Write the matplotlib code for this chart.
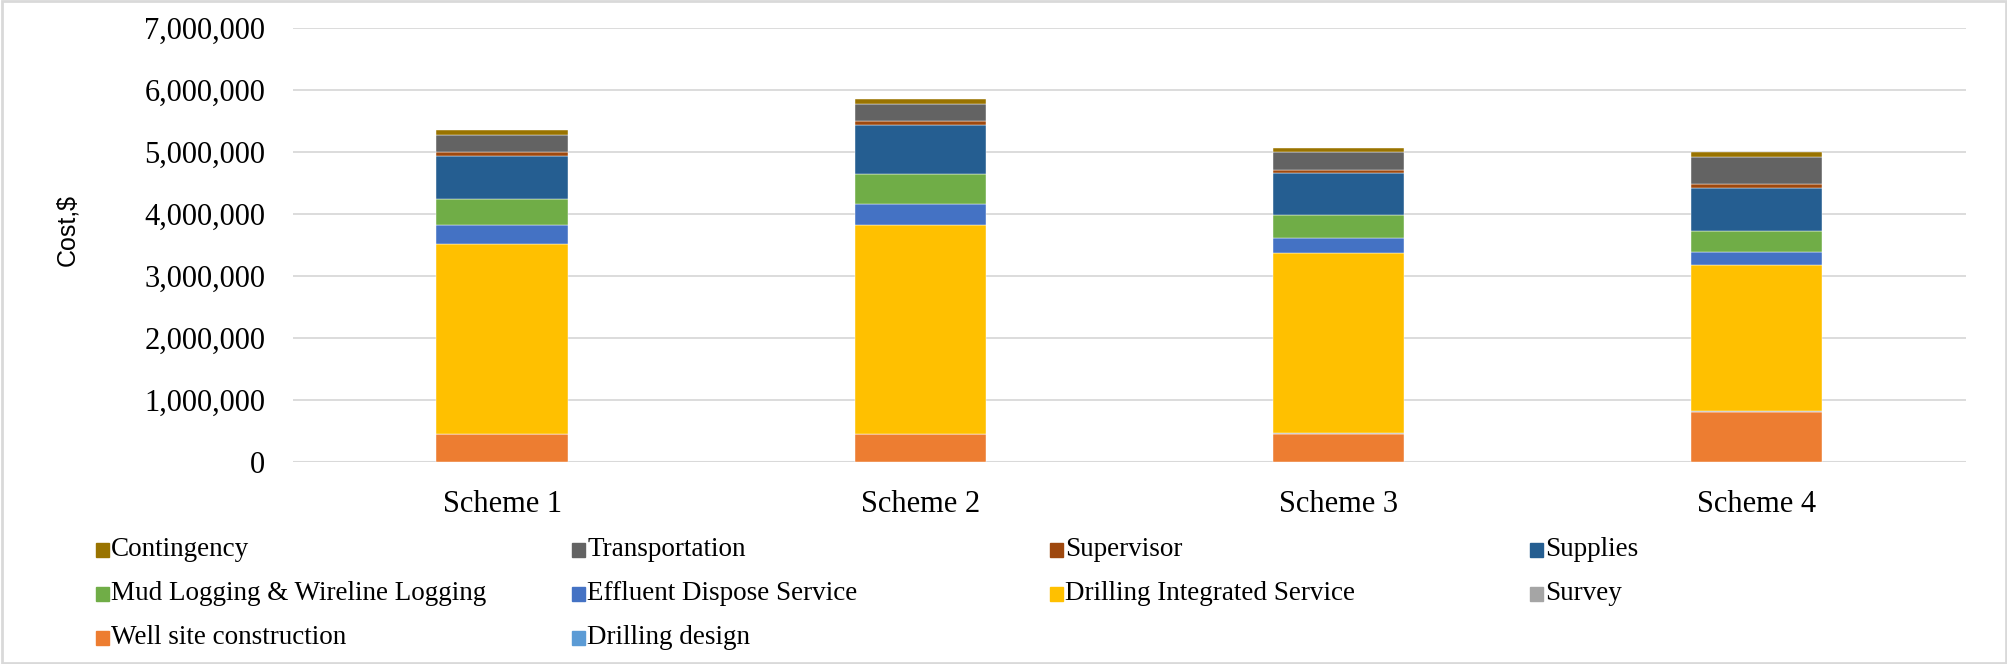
import matplotlib.pyplot as plt
import matplotlib.patches as mpatches
from matplotlib.ticker import FuncFormatter
import numpy as np

schemes = ["Scheme 1", "Scheme 2", "Scheme 3", "Scheme 4"]

# stacked from bottom to top
drilling_design = [5000, 5000, 5000, 5000]
well_site = [450000, 445000, 451000, 811000]
survey = [8000, 8000, 8000, 8000]
drilling_integrated = [3059000, 3366000, 2903000, 2349000]
effluent = [306000, 339000, 248000, 216000]
mud_logging = [414000, 477000, 370000, 333000]
supplies = [698000, 796000, 682000, 699000]
supervisor = [54000, 59000, 49000, 58000]
transportation = [284000, 284000, 279000, 446000]
contingency = [81000, 81000, 75000, 76000]

series = [
    ("Drilling design", drilling_design, "#5B9BD5"),
    ("Well site construction", well_site, "#ED7D31"),
    ("Survey", survey, "#A5A5A5"),
    ("Drilling Integrated Service", drilling_integrated, "#FFC000"),
    ("Effluent Dispose Service", effluent, "#4472C4"),
    ("Mud Logging & Wireline Logging", mud_logging, "#70AD47"),
    ("Supplies", supplies, "#255E91"),
    ("Supervisor", supervisor, "#9E480E"),
    ("Transportation", transportation, "#636363"),
    ("Contingency", contingency, "#997300"),
]

fig = plt.figure(figsize=(20.08, 6.64), dpi=100)
ax = fig.add_axes([0.1459, 0.3038, 0.979 - 0.1459, 0.9578 - 0.3038])

x = np.arange(len(schemes))
bottom = np.zeros(len(schemes))
for name, vals, col in series:
    ax.bar(x, vals, width=0.314, bottom=bottom, color=col,
           edgecolor="white", linewidth=0.3, zorder=3)
    bottom += np.array(vals)

ax.set_xlim(-0.5, 3.5)
ax.set_ylim(0, 7000000)
ax.set_yticks(np.arange(0, 7000001, 1000000))
ax.yaxis.set_major_formatter(FuncFormatter(lambda v, p: f"{int(v):,}"))
ax.set_xticks(x)
ax.set_xticklabels(schemes)
ax.grid(axis="y", color="#D9D9D9", linewidth=1.3, zorder=0)
for s in ["top", "right", "left", "bottom"]:
    ax.spines[s].set_visible(False)
ax.axhline(0, color="#D9D9D9", linewidth=1.5, zorder=2)
ax.tick_params(axis="both", length=0, labelsize=22)
ax.tick_params(axis="y", pad=20)
ax.tick_params(axis="x", pad=20)
for lab in ax.get_xticklabels() + ax.get_yticklabels():
    lab.set_fontfamily("Liberation Serif")

fig.text(0.0334, 0.653, "Cost,$", rotation=90, ha="center", va="center",
         fontsize=18, fontfamily="Liberation Sans")

# legend, filled row by row in four columns
legend_rows = [
    ["Contingency", "Transportation", "Supervisor", "Supplies"],
    ["Mud Logging & Wireline Logging", "Effluent Dispose Service",
     "Drilling Integrated Service", "Survey"],
    ["Well site construction", "Drilling design"],
]
col_x = [96, 572, 1050, 1530]
row_y = [550, 594, 638]
colors = {name: col for name, vals, col in series}
for r, row in enumerate(legend_rows):
    for c, name in enumerate(row):
        px, py = col_x[c], row_y[r]
        fig.patches.append(mpatches.Rectangle(
            (px / 2008, 1 - (py + 7) / 664), 13 / 2008, 14 / 664,
            transform=fig.transFigure, color=colors[name]))
        fig.text((px + 15) / 2008, 1 - py / 664, name, ha="left", va="center",
                 fontsize=19.5, fontfamily="Liberation Serif")

fig.patches.append(mpatches.Rectangle(
    (0.001, 0.002), 0.998, 0.996, transform=fig.transFigure,
    fill=False, edgecolor="#D9D9D9", linewidth=2))

fig.savefig("out.png", dpi=100, facecolor="white")
